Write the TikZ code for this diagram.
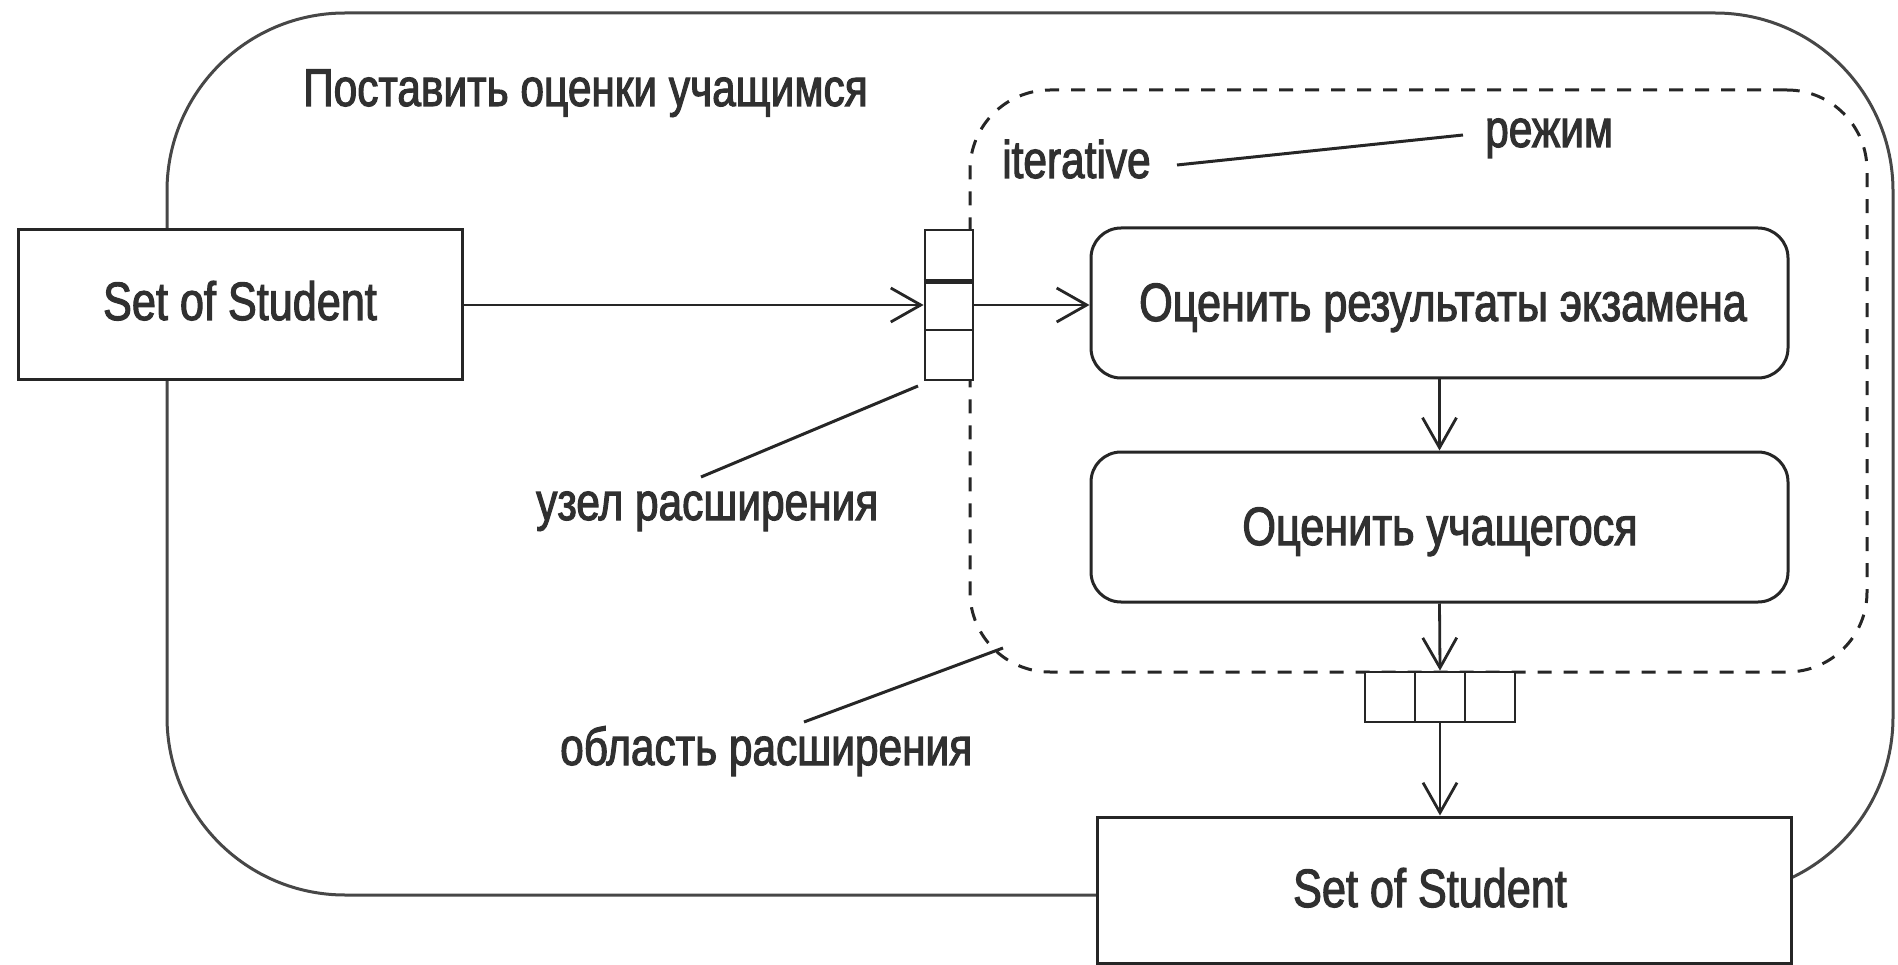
\documentclass[tikz,border=0pt]{standalone}
\usepackage{fontspec}
\setmainfont{Liberation Sans}[FakeStretch=0.8,FakeBold=2]
\usetikzlibrary{arrows.meta}
\definecolor{ink}{HTML}{262626}
\definecolor{txt}{HTML}{303030}
\definecolor{frame}{HTML}{474747}
\tikzset{
  bigtext/.style={text=txt,font=\fontsize{54}{58}\selectfont,inner sep=0pt,anchor=base},
  lbltext/.style={text=txt,font=\fontsize{53}{57}\selectfont,inner sep=0pt,anchor=base west},
  objbox/.style={draw=ink,line width=3pt,fill=white,inner sep=0pt},
  actbox/.style={draw=ink,line width=3pt,fill=white,rounded corners=30pt,inner sep=0pt,minimum width=697pt,minimum height=150pt},
  pincell/.style={draw=ink,line width=2.8pt,fill=white,inner sep=0pt,minimum width=48pt,minimum height=50pt},
  flow/.style={draw=ink,line width=2.8pt,-{Straight Barb[length=30pt,width=34pt,line width=2.8pt]}},
  note/.style={draw=ink,line width=3pt},
}
\begin{document}
\begin{tikzpicture}[x=1pt,y=-1pt]
\useasboundingbox (0,0) rectangle (1898,965);
% outer activity
\node[draw=frame,line width=3pt,rounded corners=178pt,minimum width=1726pt,minimum height=882pt,inner sep=0pt] (outer) at (1030,454) {};
% expansion region
\node[draw=ink,line width=3pt,dashed,dash pattern=on 14pt off 12pt,rounded corners=80pt,minimum width=897pt,minimum height=582pt,inner sep=0pt] (region) at (1418.5,381) {};
% title
\node[lbltext] (title) at (303,106) {Поставить оценки учащимся};
% input object
\node[objbox,minimum width=444pt,minimum height=150pt] (inobj) at (240,305) {};
\node[bigtext] (inobjtxt) at (240,320) {Set of Student};
% input pin
\node[pincell] (pinA) at (949,255) {};
\node[pincell] (pinB) at (949,305) {};
\node[pincell] (pinC) at (949,355) {};
\draw[ink,line width=5pt] (pinA.south west) -- (pinA.south east);
% actions
\node[actbox] (act1) at (1439.5,303) {};
\node[bigtext] (act1txt) at (1443,321) {Оценить результаты экзамена};
\node[actbox] (act2) at (1439.5,527) {};
\node[bigtext] (act2txt) at (1440,545) {Оценить учащегося};
% output pin
\node[pincell,minimum width=50pt] (pinD) at (1390,697) {};
\node[pincell,minimum width=50pt] (pinE) at (1440,697) {};
\node[pincell,minimum width=50pt] (pinF) at (1490,697) {};
% output object
\node[objbox,minimum width=694pt,minimum height=146pt] (outobj) at (1444,890) {};
\node[bigtext] (outobjtxt) at (1430,907) {Set of Student};
% flows
\draw[flow] (inobj.east |- pinB.west) -- (pinB.west);
\draw[flow] (pinB.east) -- (act1.west |- pinB.east);
\draw[flow] (act1.south) -- (act2.north);
\draw[flow] (act2.south) -- (pinE.north);
\draw[flow] (pinE.south) -- (pinE.south |- outobj.north);
% annotations
\node[lbltext] (iter) at (1002,178) {iterative};
\node[lbltext] (mode) at (1485,147) {режим};
\coordinate (iterEnd) at (1177,165);
\coordinate (modeEnd) at (1463,135);
\draw[note] (iterEnd) -- (modeEnd);
\node[lbltext] (uzel) at (536,520) {узел расширения};
\coordinate (uzelEnd) at (701,477);
\coordinate (pinPoint) at (918,386);
\draw[note] (uzelEnd) -- (pinPoint);
\node[lbltext] (obl) at (560,765) {область расширения};
\coordinate (oblEnd) at (804,722);
\coordinate (regPoint) at (1003,648);
\draw[note] (oblEnd) -- (regPoint);
\end{tikzpicture}
\end{document}
